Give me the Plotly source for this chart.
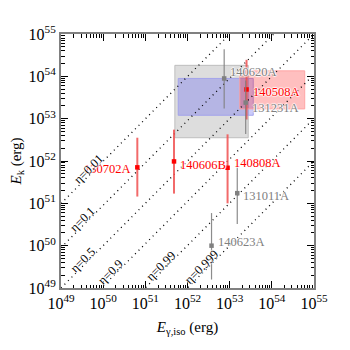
import plotly.graph_objects as go
import numpy as np

# ---- data (log10 erg) ----
names = ['130702A', '140606B', '140808A', '131011A', '140623A', '140620A', '140508A', '131231A']
eg_log = [50.81, 51.68, 52.95, 53.18, 52.57, 52.87, 53.40, 53.38]
ek_log = [51.85, 51.99, 51.84, 51.24, 50.00, 53.95, 53.69, 53.38]
ek_lo_log = [51.16, 51.23, 51.00, 50.51, 49.20, 53.24, 52.98, 52.64]
ek_hi_log = [52.55, 52.74, 52.63, 51.85, 50.77, 54.64, 54.39, 53.90]
groups = ['red', 'red', 'red', 'gray', 'gray', 'gray', 'red', 'gray']
label_side = ['left', 'right', 'right', 'right', 'right', 'right', 'right', 'right']
label_dy = [-2, -4, 5, -3, 4, 6, -3, -5]

# boxes: [x0, x1, y0, y1] in log10
box_gray = [51.70, 53.44, 52.55, 54.26]
box_blue = [51.78, 53.56, 53.08, 53.95]
box_pink = [53.24, 54.78, 53.23, 54.13]

eta_vals = [0.01, 0.1, 0.5, 0.9, 0.99, 0.999]
eta_texts = ['η=0.01', 'η=0.1', 'η=0.5', 'η=0.9', 'η=0.99', 'η=0.999']
eta_label_xlog = [49.66, 49.52, 49.52, 50.18, 51.37, 52.34]

tick_exps = [49, 50, 51, 52, 53, 54, 55]

SERIF = 'Liberation Serif, Times New Roman, Times, serif'
fig = go.Figure()

def add_box(b, fill, line):
    xs = [10.0**b[0], 10.0**b[1], 10.0**b[1], 10.0**b[0], 10.0**b[0]]
    ys = [10.0**b[2], 10.0**b[2], 10.0**b[3], 10.0**b[3], 10.0**b[2]]
    fig.add_trace(go.Scatter(x=xs, y=ys, mode='lines', fill='toself', fillcolor=fill,
                             line=dict(color=line, width=1), hoverinfo='skip', showlegend=False))

add_box(box_gray, 'rgba(150,150,150,0.32)', 'rgba(185,185,185,0.9)')
add_box(box_blue, 'rgba(110,110,240,0.36)', 'rgba(160,160,235,0.9)')
add_box(box_pink, 'rgba(255,0,0,0.25)', 'rgba(255,160,160,0.9)')

# eta lines
xl = np.array([1e49, 1e55])
for eta in eta_vals:
    fig.add_trace(go.Scatter(x=xl, y=xl * (1 - eta) / eta, mode='lines',
                             line=dict(color='black', width=1.3, dash='1px,4px'),
                             hoverinfo='skip', showlegend=False))

# data points
for i, n in enumerate(names):
    x = 10.0**eg_log[i]
    y = 10.0**ek_log[i]
    if groups[i] == 'red':
        ec, mc, ew = 'rgba(240,80,80,0.85)', 'red', 2
    else:
        ec, mc, ew = 'rgba(128,128,128,0.9)', 'rgb(128,128,128)', 1.2
    fig.add_trace(go.Scatter(
        x=[x], y=[y], mode='markers',
        marker=dict(symbol='square', size=4.5, color=mc),
        error_y=dict(type='data', symmetric=False,
                     array=[10.0**ek_hi_log[i] - y], arrayminus=[y - 10.0**ek_lo_log[i]],
                     color=ec, thickness=ew, width=0),
        showlegend=False))

halo = 'white 1px 0px 1px, white -1px 0px 1px, white 0px 1px 1px, white 0px -1px 1px'
for i, n in enumerate(names):
    col = 'red' if groups[i] == 'red' else 'rgb(128,128,128)'
    left = label_side[i] == 'left'
    fig.add_annotation(x=eg_log[i], y=ek_log[i], text=n, showarrow=False,
                       xanchor='right' if left else 'left', yanchor='middle',
                       xshift=-4 if left else 4, yshift=label_dy[i],
                       font=dict(family=SERIF, size=12.5, color=col, shadow=halo))

for eta, t, xlg in zip(eta_vals, eta_texts, eta_label_xlog):
    ylg = xlg + np.log10((1 - eta) / eta) + 0.15
    fig.add_annotation(x=xlg, y=float(ylg), text=t, showarrow=False, textangle=-45,
                       font=dict(family=SERIF, size=12.5, color='black', shadow=halo))

tick_text = ['10<sup>%d</sup>' % e for e in tick_exps]
axis_common = dict(type='log', range=[49, 55], tickvals=[10.0**e for e in tick_exps],
                   ticktext=tick_text, ticks='inside', ticklen=7, tickwidth=1,
                   tickcolor='black', mirror='allticks', showline=True, linecolor='rgb(128,128,128)',
                   linewidth=2, showgrid=False, zeroline=False, automargin=False,
                   tickfont=dict(family=SERIF, size=16, color='black'),
                   minor=dict(ticks='inside', ticklen=3.5, tickcolor='black', dtick='D1', showgrid=False))

fig.update_xaxes(**axis_common,
                 title=dict(text='<i>E</i><sub>γ,iso</sub> (erg)', standoff=10,
                            font=dict(family=SERIF, size=15, color='black')))
fig.update_yaxes(**axis_common,
                 title=dict(text='<i>E</i><sub>k</sub> (erg)', standoff=6,
                            font=dict(family=SERIF, size=15, color='black')))

# page body has an 8px margin, so the figure is 342 px and offset by 8
fig.update_layout(width=342, height=342, margin=dict(l=53, r=36, t=26, b=62),
                  plot_bgcolor='white', paper_bgcolor='white', showlegend=False)

fig.write_html('out.html')
